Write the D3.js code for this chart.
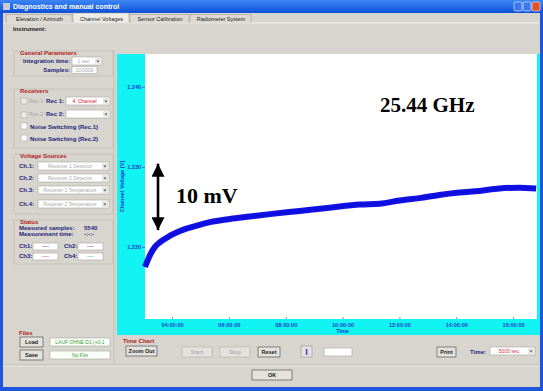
<!DOCTYPE html>
<html>
<head>
<meta charset="utf-8">
<script src="https://cdn.jsdelivr.net/npm/d3@7"></script>
<style>
  body { margin: 0; background: #2a5ee0; }
  svg text { font-family: "Liberation Sans", "DejaVu Sans", sans-serif; }
  .ui { font-size: 6px; fill: #23237a; font-weight: bold; }
  .grp { font-size: 6px; fill: #b02020; font-weight: bold; }
  .dis { font-size: 5.5px; fill: #a8a8a8; }
</style>
</head>
<body>
<div id="app"></div>
<script>
// readings of the blue trace, hours of day vs. channel voltage [V]
var hours   = [3.05, 3.23, 3.40, 3.58, 3.93, 4.28, 4.81, 5.33, 6.04, 6.74, 7.44, 8.49,
               9.54, 10.60, 11.30, 12.00, 12.70, 13.40, 14.11, 14.81, 15.51, 16.21, 16.81];
var voltage = [1.2175, 1.2190, 1.2200, 1.2206, 1.2214, 1.2220, 1.2226, 1.2231, 1.2235, 1.2238,
               1.2241, 1.2245, 1.2249, 1.2253, 1.2254, 1.2258, 1.2261, 1.2265, 1.2268, 1.2270,
               1.2273, 1.2274, 1.2273];
var yTicks = [1.220, 1.230, 1.240];
var xTickHours = [4, 6, 8, 10, 12, 14, 16];
var tabs = ["Elevation / Azimuth", "Channel Voltages", "Sensor Calibration", "Radiometer System"];
var sources = ["Receiver 1 Detector", "Receiver 2 Detector", "Receiver 1 Temperature", "Receiver 2 Temperature"];

var W = 543, H = 391;
var svg = d3.select("#app").append("svg").attr("width", W).attr("height", H);

// ---- window chrome ----
var grad = svg.append("defs").append("linearGradient").attr("id", "tb")
  .attr("x1", 0).attr("y1", 0).attr("x2", 0).attr("y2", 1);
grad.append("stop").attr("offset", 0).attr("stop-color", "#3d86f5");
grad.append("stop").attr("offset", 1).attr("stop-color", "#0d4fd8");
svg.append("rect").attr("width", W).attr("height", H).attr("fill", "#1f55dd");
svg.append("rect").attr("width", W).attr("height", 13).attr("fill", "url(#tb)");
svg.append("rect").attr("x", 3).attr("y", 3).attr("width", 7).attr("height", 7).attr("fill", "#c8c8d8");
svg.append("text").attr("x", 13).attr("y", 9).attr("fill", "#fff")
  .style("font-size", "7px").style("font-weight", "bold").text("Diagnostics and manual control");
[["#3b78f0", 514], ["#3b78f0", 523], ["#e0502a", 532]].forEach(function(b) {
  svg.append("rect").attr("x", b[1]).attr("y", 2).attr("width", 8).attr("height", 9)
    .attr("rx", 1.5).attr("fill", b[0]).attr("stroke", "#fff").attr("stroke-width", 0.6);
});
svg.append("rect").attr("x", 3).attr("y", 13).attr("width", 537).attr("height", 374).attr("fill", "#d8d5ce");

// tabs
var tabX = [6, 73, 130, 190, 252];
tabs.forEach(function(t, i) {
  var sel = i === 1;
  svg.append("rect").attr("x", tabX[i]).attr("y", sel ? 13 : 14.5)
    .attr("width", tabX[i + 1] - tabX[i] - 1).attr("height", sel ? 10 : 8.5)
    .attr("fill", sel ? "#eeece6" : "#dcd9d2").attr("stroke", "#9a978f").attr("stroke-width", 0.5);
  svg.append("text").attr("x", (tabX[i] + tabX[i + 1]) / 2).attr("y", 20.5).attr("text-anchor", "middle")
    .style("font-size", "5.5px").attr("fill", "#222").text(t);
});
svg.append("line").attr("x1", 4).attr("x2", 539).attr("y1", 23).attr("y2", 23).attr("stroke", "#fff").attr("stroke-width", 0.8);
svg.append("text").attr("x", 13).attr("y", 31).style("font-size", "6px").style("font-weight", "bold")
  .attr("fill", "#222").text("Instrument:");

// small helpers for the dialog controls
function box(x, y, w, h, fill) {
  return svg.append("rect").attr("x", x).attr("y", y).attr("width", w).attr("height", h)
    .attr("fill", fill || "#fff").attr("stroke", "#a9a69f").attr("stroke-width", 0.6);
}
function label(x, y, t, cls, anchor) {
  return svg.append("text").attr("x", x).attr("y", y).attr("class", cls || "ui")
    .attr("text-anchor", anchor || "start").text(t);
}
function combo(x, y, w, t, color) {
  box(x, y, w, 8);
  svg.append("rect").attr("x", x + w - 7).attr("y", y + 1).attr("width", 6).attr("height", 6).attr("fill", "#e8e6e0");
  svg.append("path").attr("d", "M" + (x + w - 5.5) + "," + (y + 3.5) + "l3,0l-1.5,2z").attr("fill", "#555");
  svg.append("text").attr("x", x + (w - 7) / 2).attr("y", y + 6).attr("text-anchor", "middle")
    .style("font-size", "5px").attr("fill", color || "#aaa").text(t);
}
function button(x, y, w, t, enabled) {
  svg.append("rect").attr("x", x).attr("y", y).attr("width", w).attr("height", 10)
    .attr("fill", "#e4e2dc").attr("stroke", enabled ? "#555" : "#b8b5ae").attr("stroke-width", 0.7);
  svg.append("text").attr("x", x + w / 2).attr("y", y + 7).attr("text-anchor", "middle")
    .style("font-size", "5.5px").style("font-weight", "bold").attr("fill", enabled ? "#222" : "#b0b0b0")
    .text(t);
}
function group(x, y, w, h) {
  svg.append("rect").attr("x", x).attr("y", y).attr("width", w).attr("height", h)
    .attr("fill", "none").attr("stroke", "#bdb9b0").attr("stroke-width", 0.6);
}
function check(x, y, dis) {
  svg.append("rect").attr("x", x).attr("y", y).attr("width", 6).attr("height", 6)
    .attr("fill", dis ? "#eceae4" : "#fff").attr("stroke", "#a09d96").attr("stroke-width", 0.5);
}

// left panel
group(14, 51, 99, 25);
label(20, 55, "General Parameters", "grp");
label(70, 63, "Integration time:", "ui", "end"); combo(72, 57, 30, "1 sec");
label(70, 72, "Samples:", "ui", "end"); box(72, 66.5, 25, 7);
svg.append("text").attr("x", 84.5).attr("y", 72).attr("text-anchor", "middle").attr("class", "dis").text("100000");

group(14, 89, 99, 59);
label(20, 93, "Receivers", "grp");
check(21, 98, true); label(29, 103, "Rec 1", "dis");
label(64, 103, "Rec 1:", "ui", "end"); combo(66, 97, 44, "4. Channel", "#d02020");
check(21, 112, true); label(29, 116, "Rec 2", "dis");
label(64, 116, "Rec 2:", "ui", "end"); combo(66, 110, 44, "");
check(21, 123, false); label(30, 129, "Noise Switching (Rec.1)");
check(21, 135, false); label(30, 141, "Noise Switching (Rec.2)");

group(14, 154, 99, 60);
label(20, 158, "Voltage Sources", "grp");
sources.forEach(function(s, i) {
  var yy = [162, 174, 186, 200][i];
  label(19, yy + 6, "Ch." + (i === 3 ? 4 : i + 1) + ":");
  combo(38, yy, 71, s);
});

group(14, 220, 99, 44);
label(20, 224, "Status", "grp");
label(19, 230, "Measured samples:"); label(84, 230, "5540", "ui").attr("fill", "#1a9a1a");
label(19, 236, "Measurement time:"); label(84, 236, "-:-:-", "ui").attr("fill", "#1a9a1a");
[["Ch1:", 19, 243, "#8080d0"], ["Ch2:", 64, 243, "#8080d0"], ["Ch3:", 19, 253, "#e08080"], ["Ch4:", 64, 253, "#70d0d0"]]
  .forEach(function(c) {
    label(c[1], c[2] + 5, c[0]);
    box(c[1] + 14, c[2], 25, 7);
    svg.append("line").attr("x1", c[1] + 23).attr("x2", c[1] + 30).attr("y1", c[2] + 3.5).attr("y2", c[2] + 3.5)
      .attr("stroke", c[3]).attr("stroke-width", 0.6);
  });

// files
label(19, 335, "Files", "grp");
button(20, 337, 23, "Load", true);
box(50, 338, 60, 8).attr("fill", "#fbfff9");
svg.append("text").attr("x", 80).attr("y", 344).attr("text-anchor", "middle").style("font-size", "5px")
  .attr("fill", "#3aa03a").text("LAUF OHNE D1 (+0,1");
button(20, 350, 23, "Save", true);
box(50, 351, 60, 8).attr("fill", "#fbfff9");
svg.append("text").attr("x", 80).attr("y", 357).attr("text-anchor", "middle").style("font-size", "5px")
  .attr("fill", "#3aa03a").text("No File");
svg.append("line").attr("x1", 114).attr("x2", 114).attr("y1", 50).attr("y2", 363).attr("stroke", "#b8b5ae").attr("stroke-width", 0.6);

// ---- chart ----
var plot = { left: 145, top: 54, right: 537, bottom: 319 };
svg.append("rect").attr("x", 117).attr("y", 54).attr("width", 423).attr("height", 281).attr("fill", "#12f4f4");
svg.append("rect").attr("x", plot.left).attr("y", plot.top)
  .attr("width", plot.right - plot.left).attr("height", plot.bottom - plot.top).attr("fill", "#fff");

var day = new Date(2010, 0, 1);
function toDate(h) { return new Date(day.getTime() + h * 3600000); }

var x = d3.scaleTime()
  .domain([toDate(3.05), toDate(16.84)])
  .range([plot.left, plot.right]);
var y = d3.scaleLinear()
  .domain([1.2110, 1.2441])
  .range([plot.bottom, plot.top]);

var xAxis = d3.axisBottom(x)
  .tickValues(xTickHours.map(toDate))
  .tickFormat(d3.timeFormat("%H:%M:%S"))
  .tickSizeInner(-2).tickSizeOuter(0).tickPadding(4);
var yAxis = d3.axisLeft(y)
  .tickValues(yTicks)
  .tickFormat(d3.format(".3f"))
  .tickSizeInner(3).tickSizeOuter(0).tickPadding(1);

var gx = svg.append("g").attr("transform", "translate(0," + plot.bottom + ")").call(xAxis);
var gy = svg.append("g").attr("transform", "translate(" + plot.left + ",0)").call(yAxis);
[gx, gy].forEach(function(g) {
  g.select(".domain").remove();
  g.selectAll("line").attr("stroke", "#2040c0").attr("stroke-width", 0.6);
  g.selectAll("text").attr("fill", "#1a3cc8").style("font-size", "5.5px").style("font-weight", "bold")
    .style("font-family", "Liberation Sans, sans-serif");
});
svg.append("text").attr("x", x(toDate(10))).attr("y", 333).attr("text-anchor", "middle")
  .attr("fill", "#1a3cc8").style("font-size", "5.5px").style("font-weight", "bold").text("Time");
svg.append("text")
  .attr("transform", "translate(124," + ((plot.top + plot.bottom) / 2) + ") rotate(-90)")
  .attr("text-anchor", "middle").attr("fill", "#1a3cc8").style("font-size", "5.5px").style("font-weight", "bold")
  .text("Channel Voltage [V]");

var line = d3.line()
  .x(function(d, i) { return x(toDate(hours[i])); })
  .y(function(d) { return y(d); })
  .curve(d3.curveMonotoneX);
svg.append("path").datum(voltage).attr("d", line)
  .attr("fill", "none").attr("stroke", "#1212e6").attr("stroke-width", 6).attr("stroke-linecap", "butt");
svg.append("path").datum(voltage).attr("d", line)
  .attr("fill", "none").attr("stroke", "#0000c8").attr("stroke-width", 2.5)
  .attr("stroke-dasharray", "1,1.5").attr("opacity", 0.6);

// annotations
var defs = svg.select("defs");
defs.append("marker").attr("id", "ah").attr("viewBox", "0 0 10 10").attr("refX", 10).attr("refY", 5)
  .attr("markerWidth", 5).attr("markerHeight", 5).attr("orient", "auto-start-reverse")
  .attr("markerUnits", "strokeWidth")
  .append("path").attr("d", "M0,0L10,5L0,10z").attr("fill", "#000");
svg.append("line").attr("x1", 158).attr("x2", 158).attr("y1", y(1.2304)).attr("y2", y(1.2221))
  .attr("stroke", "#000").attr("stroke-width", 2.6)
  .attr("marker-start", "url(#ah)").attr("marker-end", "url(#ah)");
svg.append("text").attr("x", 176).attr("y", 203).style("font-family", "Liberation Serif, serif")
  .style("font-size", "22px").style("font-weight", "bold").attr("fill", "#000").text("10 mV");
svg.append("text").attr("x", 380).attr("y", 112).style("font-family", "Liberation Serif, serif")
  .style("font-size", "21px").style("font-weight", "bold").attr("fill", "#000").text("25.44 GHz");

// bottom controls
label(123, 343, "Time Chart", "grp");
button(126, 346, 31, "Zoom Out", true);
button(182, 347, 30, "Start", false);
button(220, 347, 30, "Stop", false);
button(258, 347, 22, "Reset", true);
svg.append("rect").attr("x", 301).attr("y", 346).attr("width", 11).attr("height", 11)
  .attr("fill", "#e4e2dc").attr("stroke", "#888").attr("stroke-width", 0.5);
svg.append("text").attr("x", 306.5).attr("y", 355).attr("text-anchor", "middle").attr("fill", "#1a3cc8")
  .style("font-size", "9px").style("font-weight", "bold").text("I");
box(324, 348, 28, 8);
button(437, 347, 19, "Print", true);
label(486, 354, "Time:", "ui", "end");
combo(490, 347, 45, "5000 sec", "#e03030");
svg.append("line").attr("x1", 4).attr("x2", 539).attr("y1", 365).attr("y2", 365).attr("stroke", "#a9a69f").attr("stroke-width", 0.6);
svg.append("line").attr("x1", 4).attr("x2", 539).attr("y1", 366).attr("y2", 366).attr("stroke", "#fff").attr("stroke-width", 0.6);
button(252, 370, 40, "OK", true);
</script>
</body>
</html>
